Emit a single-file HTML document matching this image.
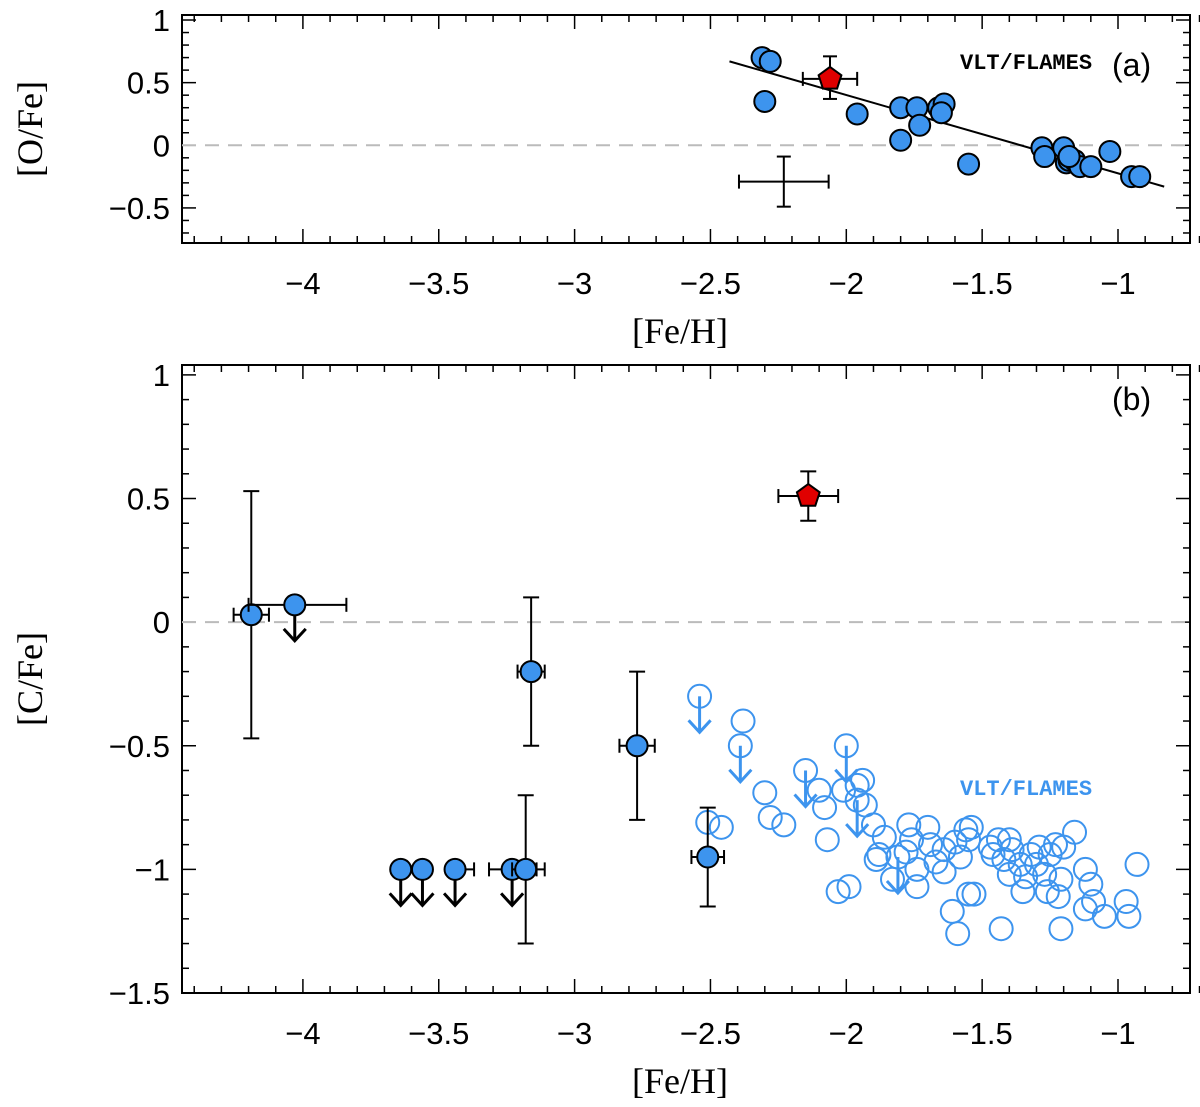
<!DOCTYPE html>
<html><head><meta charset="utf-8">
<style>
html,body{margin:0;padding:0;background:#fff;}
svg{display:block;font-family:"Liberation Sans",sans-serif;}
</style></head>
<body>
<svg id="chart" width="1200" height="1107" viewBox="0 0 1200 1107" xmlns="http://www.w3.org/2000/svg">
</svg>
<script>
// Panel (a) data: [O/Fe] vs [Fe/H]
const aFeH = [-2.31,-2.28,-2.30,-1.96,-1.80,-1.74,-1.73,-1.66,-1.64,-1.65,-1.80,-1.55,-1.28,-1.27,-1.20,-1.19,-1.18,-1.16,-1.14,-1.10,-1.03,-0.95,-0.92,-1.18];
const aOFe = [0.70,0.67,0.35,0.25,0.30,0.30,0.16,0.30,0.33,0.26,0.04,-0.15,-0.02,-0.09,-0.02,-0.14,-0.12,-0.12,-0.17,-0.17,-0.05,-0.25,-0.25,-0.09];
const aRed = [-2.06, 0.53, 0.10, 0.71, 0.37]; // x, y, xerr, yhi, ylo
const aErrBar = [-2.23, -0.29, 0.165, 0.20];
const aFit = [[-2.43, 0.67], [-0.83, -0.33]];
// Panel (b) filled points
const bFeH = [-4.19,-4.03,-3.16,-2.77,-2.51,-3.64,-3.56,-3.44,-3.23,-3.18];
const bCFe = [0.03,0.07,-0.20,-0.50,-0.95,-1.0,-1.0,-1.0,-1.0,-1.0];
const bXlo = [0.065,0.17,0.05,0.065,0.06,0,0,0,0.085,0.05];
const bXhi = [0.065,0.19,0.05,0.065,0.06,0,0,0.07,0.09,0.07];
const bYhi = [0.53,0,0.10,-0.20,-0.75,null,null,null,null,-0.70];
const bYlo = [-0.47,0,-0.50,-0.80,-1.15,null,null,null,null,-1.30];
const bLim = [0,1,0,0,0,1,1,1,1,0];
const bRed = [-2.14, 0.51, 0.11, 0.61, 0.41];
// Panel (b) VLT/FLAMES open circles
const oFeH = [-2.54,-2.38,-2.39,-2.15,-2.00,-1.96,-1.81,-2.51,-2.46,-2.30,-2.28,-2.23,-2.10,-2.08,-2.07,-2.01,-1.96,-1.94,-1.93,-1.90,-1.86,-1.88,-1.89,-1.83,-1.77,-1.78,-1.76,-1.70,-1.69,-1.67,-1.74,-1.64,-1.64,-1.60,-1.56,-1.55,-1.58,-1.54,-1.47,-1.44,-1.40,-1.46,-1.42,-1.39,-1.36,-1.32,-1.30,-1.29,-1.25,-1.23,-1.20,-1.16,-1.12,-1.27,-1.21,-1.40,-1.35,-1.34,-1.26,-1.22,-1.10,-1.12,-1.09,-1.05,-0.97,-0.96,-0.93,-1.21,-1.43,-1.61,-1.59,-1.55,-1.53,-2.03,-1.99,-1.74];
const oCFe = [-0.30,-0.40,-0.50,-0.60,-0.50,-0.72,-0.95,-0.81,-0.83,-0.69,-0.79,-0.82,-0.68,-0.75,-0.88,-0.68,-0.66,-0.64,-0.74,-0.82,-0.87,-0.94,-0.96,-1.04,-0.82,-0.93,-0.88,-0.83,-0.90,-0.97,-1.00,-1.01,-0.92,-0.89,-0.84,-0.88,-0.95,-0.83,-0.91,-0.88,-0.88,-0.94,-0.96,-0.92,-0.98,-0.94,-0.98,-0.91,-0.94,-0.90,-0.91,-0.85,-1.00,-1.02,-1.04,-1.02,-1.09,-1.03,-1.09,-1.11,-1.06,-1.16,-1.13,-1.19,-1.13,-1.19,-0.98,-1.24,-1.24,-1.17,-1.26,-1.10,-1.10,-1.09,-1.07,-1.07];
const oLim = [1,0,1,1,1,1,1,0,0,0,0,0,0,0,0,0,0,0,0,0,0,0,0,0,0,0,0,0,0,0,0,0,0,0,0,0,0,0,0,0,0,0,0,0,0,0,0,0,0,0,0,0,0,0,0,0,0,0,0,0,0,0,0,0,0,0,0,0,0,0,0,0,0,0,0,0];
const xTicks = [-4,-3.5,-3,-2.5,-2,-1.5,-1];
const xTickLabels = ["\u22124","\u22123.5","\u22123","\u22122.5","\u22122","\u22121.5","\u22121"];
const yaTicks = [-0.5,0,0.5,1];
const yaTickLabels = ["\u22120.5","0","0.5","1"];
const ybTicks = [-1.5,-1,-0.5,0,0.5,1];
const ybTickLabels = ["\u22121.5","\u22121","\u22120.5","0","0.5","1"];

const NS="http://www.w3.org/2000/svg";
const svg=document.getElementById('chart');
function mk(tag,attrs,parent){const e=document.createElementNS(NS,tag);for(const k in attrs)e.setAttribute(k,attrs[k]);(parent||svg).appendChild(e);return e;}
const X0=182,X1=1190,XD0=-4.445,XD1=-0.735;
const xs=v=>X0+(v-XD0)/(XD1-XD0)*(X1-X0);
const yaT=15,yaB=243,yaD0=-0.78,yaD1=1.04;
const ya=v=>yaB-(v-yaD0)/(yaD1-yaD0)*(yaB-yaT);
const ybT=365,ybB=993,ybD0=-1.5,ybD1=1.04;
const yb=v=>ybB-(v-ybD0)/(ybD1-ybD0)*(ybB-ybT);
const BLUE="#3d94ee";

function axes(name,ys,top,bot,d0,d1,yt,ytl,xlab,ylab,xlabY){
  const g=mk('g',{});
  
  
  const fr=mk('rect',{x:X0,y:top,width:X1-X0,height:bot-top,fill:'none',stroke:'#000','stroke-width':2},g);
  
  
  for(let i=-44;i<=-7;i++){const v=i/10;const px=xs(v);const maj=(i%5===0);const L=maj?14:7;
    mk('line',{x1:px,y1:bot,x2:px,y2:bot-L,stroke:'#000','stroke-width':1.5},g);
    mk('line',{x1:px,y1:top,x2:px,y2:top+L,stroke:'#000','stroke-width':1.5},g);}
  for(let i=Math.ceil(d0*10);i<=Math.floor(d1*10);i++){const v=i/10;const py=ys(v);const maj=(i%5===0);const L=maj?14:7;
    mk('line',{x1:X0,y1:py,x2:X0+L,y2:py,stroke:'#000','stroke-width':1.5},g);
    mk('line',{x1:X1,y1:py,x2:X1-L,y2:py,stroke:'#000','stroke-width':1.5},g);}
  xTicks.forEach((v,i)=>{const t=mk('text',{x:xs(v),y:bot+51,'font-size':31,'text-anchor':'middle'},g);t.textContent=xTickLabels[i];
    });
  yt.forEach((v,i)=>{const t=mk('text',{x:X0-12,y:ys(v)+11,'font-size':31,'text-anchor':'end'},g);t.textContent=ytl[i];
    });
  const xl=mk('text',{x:680,y:xlabY,'font-size':36,'text-anchor':'middle','font-family':'Liberation Serif, serif'},g);xl.textContent=xlab;
  
  const cy=(top+bot)/2;
  const yl=mk('text',{x:42,y:cy,'font-size':36,'text-anchor':'middle','font-family':'Liberation Serif, serif',transform:`rotate(-90 42 ${cy})`},g);yl.textContent=ylab;
  
  const z=mk('line',{x1:X0,x2:X1,y1:ys(0),y2:ys(0),stroke:'#bbb','stroke-width':2,'stroke-dasharray':'14,9'},g);
  
}
axes('panel-a-axes',ya,yaT,yaB,yaD0,yaD1,yaTicks,yaTickLabels,'[Fe/H]','[O/Fe]',343);
axes('panel-b-axes',yb,ybT,ybB,ybD0,ybD1,ybTicks,ybTickLabels,'[Fe/H]','[C/Fe]',1093);

function errbar(x0,x1,y0,y1,color,capLen){ // draws h or v bar with caps
  const g=mk('g',{stroke:color,'stroke-width':2,fill:'none'});
  
  
  mk('line',{x1:x0,y1:y0,x2:x1,y2:y1},g);
  if(x0===x1){mk('line',{x1:x0-capLen,x2:x0+capLen,y1:y0,y2:y0},g);mk('line',{x1:x0-capLen,x2:x0+capLen,y1:y1,y2:y1},g);}
  else{mk('line',{x1:x0,x2:x0,y1:y0-capLen,y2:y0+capLen},g);mk('line',{x1:x1,x2:x1,y1:y1-capLen,y2:y1+capLen},g);}
}
function arrow(px,py,color){
  const g=mk('g',{stroke:color,'stroke-width':3,fill:'none'});
  
  
  mk('line',{x1:px,y1:py,x2:px,y2:py+36},g);
  mk('polyline',{points:`${px-11},${py+24} ${px},${py+36} ${px+11},${py+24}`},g);
}
function pent(px,py,r){let p=[];for(let k=0;k<5;k++){const a=-Math.PI/2+k*2*Math.PI/5;p.push((px+r*Math.cos(a)).toFixed(1)+','+(py+r*Math.sin(a)).toFixed(1));}return p.join(' ');}

// Panel a
const fit=mk('line',{x1:xs(aFit[0][0]),y1:ya(aFit[0][1]),x2:xs(aFit[1][0]),y2:ya(aFit[1][1]),stroke:'#000','stroke-width':2});


errbar(xs(aErrBar[0]-aErrBar[2]),xs(aErrBar[0]+aErrBar[2]),ya(aErrBar[1]),ya(aErrBar[1]),'#000',7);
errbar(xs(aErrBar[0]),xs(aErrBar[0]),ya(aErrBar[1]-aErrBar[3]),ya(aErrBar[1]+aErrBar[3]),'#000',7);
aFeH.forEach((v,i)=>{const c=mk('circle',{cx:xs(v),cy:ya(aOFe[i]),r:10.5,fill:BLUE,stroke:'#000','stroke-width':2});
  });
errbar(xs(aRed[0]-aRed[2]),xs(aRed[0]+aRed[2]),ya(aRed[1]),ya(aRed[1]),'#000',7);
errbar(xs(aRed[0]),xs(aRed[0]),ya(aRed[4]),ya(aRed[3]),'#000',7);
const pa=mk('polygon',{points:pent(xs(aRed[0]),ya(aRed[1]),12),fill:'#e00000',stroke:'#000','stroke-width':2});


const ta=mk('text',{x:960,y:69,'font-size':22,'font-weight':'bold','font-family':'Liberation Mono, monospace'});ta.textContent='VLT/FLAMES';

const la=mk('text',{x:1112,y:76,'font-size':32});la.textContent='(a)';


// Panel b open circles
oFeH.forEach((v,i)=>{const px=xs(v),py=yb(oCFe[i]);
  if(oLim[i])arrow(px,py,BLUE);
  const c=mk('circle',{cx:px,cy:py,r:11.5,fill:'none',stroke:BLUE,'stroke-width':2});
  });
// Panel b filled
bFeH.forEach((v,i)=>{const px=xs(v),py=yb(bCFe[i]);
  if(bYhi[i]!==null&&bYhi[i]!==0)errbar(px,px,yb(bYlo[i]),yb(bYhi[i]),'#000',8);
  if(bXlo[i]||bXhi[i])errbar(xs(v-bXlo[i]),xs(v+bXhi[i]),py,py,'#000',7);
  if(bLim[i])arrow(px,py,'#000');
  const c=mk('circle',{cx:px,cy:py,r:10.5,fill:BLUE,stroke:'#000','stroke-width':2});
  });
errbar(xs(bRed[0]-bRed[2]),xs(bRed[0]+bRed[2]),yb(bRed[1]),yb(bRed[1]),'#000',7);
errbar(xs(bRed[0]),xs(bRed[0]),yb(bRed[4]),yb(bRed[3]),'#000',8);
const pb=mk('polygon',{points:pent(xs(bRed[0]),yb(bRed[1]),12),fill:'#e00000',stroke:'#000','stroke-width':2});


const tb=mk('text',{x:960,y:795,'font-size':22,'font-weight':'bold','font-family':'Liberation Mono, monospace',fill:BLUE});tb.textContent='VLT/FLAMES';

const lb=mk('text',{x:1112,y:410,'font-size':32});lb.textContent='(b)';

</script>
</body></html>
